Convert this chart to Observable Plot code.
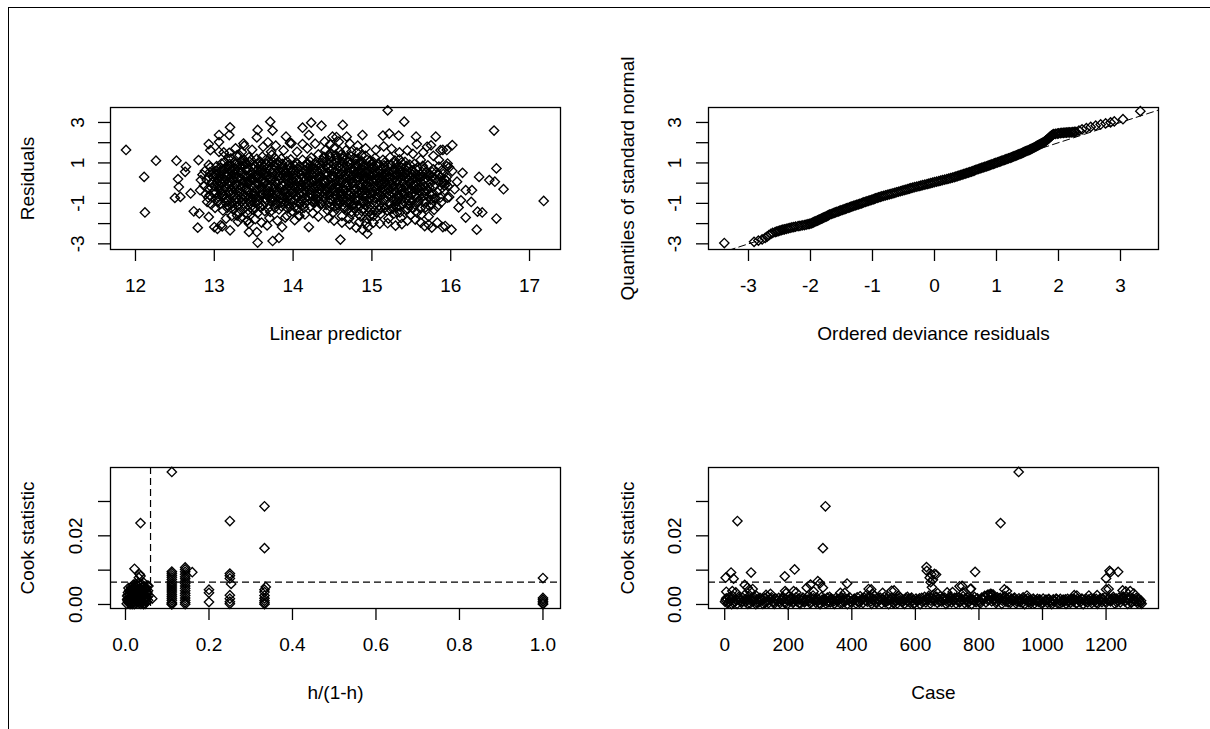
<!DOCTYPE html>
<html><head><meta charset="utf-8">
<script src="https://cdn.jsdelivr.net/npm/d3@7"></script>
<script src="https://cdn.jsdelivr.net/npm/@observablehq/plot@0.6"></script>
<style>
html,body{margin:0;padding:0;background:#fff;}
#page{position:relative;width:1210px;height:729px;overflow:hidden;background:#fff;}
#frame{position:absolute;left:8px;top:7px;width:1300px;height:800px;border-top:1.5px solid #000;border-left:1.5px solid #000;}
.panel{position:absolute;}
</style></head><body><div id="page"><div id="frame"></div></div>
<script>
// ---------- DATA ----------
// Panel 1: residuals vs linear predictor  [linear predictor, residual]
const residCore = [
[12.82,-0.35],[12.85,0.42],[12.87,-0.12],[12.83,0.15],[12.89,-0.55],[12.88,0.6],
[12.91,-0.92],[12.93,0.31],[12.92,-0.28],[12.95,0.78],[12.94,-0.6],[12.97,0.05],[12.96,-1.05],[12.98,0.52],[12.99,-0.41],[12.93,0.9],
[13.01,-1.22],[13.03,0.84],[13.02,-0.47],[13.05,0.21],[13.04,-0.88],[13.06,0.55],[13.07,-0.13],[13.08,-1.02],[13.09,0.97],[13.05,-0.66],[13.03,0.38],[13.08,0.02],
[13.11,-1.35],[13.12,0.64],[13.14,-0.21],[13.13,1.05],[13.15,-0.74],[13.16,0.33],[13.17,-1.08],[13.18,0.88],[13.19,-0.45],[13.12,0.1],[13.16,-0.02],[13.14,-0.95],[13.18,0.47],
[13.21,1.22],[13.22,-0.36],[13.23,0.58],[13.24,-1.31],[13.25,0.14],[13.26,-0.82],[13.27,0.93],[13.28,-0.07],[13.29,-1.12],[13.22,0.35],[13.25,-0.58],[13.27,0.72],[13.23,-0.99],[13.29,0.26],
[13.31,-1.45],[13.32,1.38],[13.33,-0.26],[13.34,0.49],[13.35,-0.91],[13.36,0.97],[13.37,-0.58],[13.38,0.11],[13.39,-1.2],[13.33,0.78],[13.36,-0.04],[13.31,0.3],[13.38,1.15],[13.34,-0.73],[13.37,-1.02],
[13.41,0.62],[13.42,-1.52],[13.43,0.06],[13.44,1.28],[13.45,-0.69],[13.46,0.39],[13.47,-0.18],[13.48,-1.11],[13.49,0.91],[13.42,-0.38],[13.45,1.05],[13.47,-0.87],[13.43,-1.34],[13.49,0.21],[13.44,-0.01],
[13.51,-0.95],[13.52,0.81],[13.53,-0.3],[13.54,1.2],[13.55,-1.48],[13.56,0.27],[13.57,-0.63],[13.58,0.55],[13.59,-1.2],[13.52,-0.09],[13.55,0.98],[13.58,-0.42],[13.51,0.4],[13.56,-1.05],[13.59,0.12],
[13.61,1.31],[13.62,-0.52],[13.63,0.44],[13.64,-1.38],[13.65,0.09],[13.66,-0.85],[13.67,0.76],[13.68,-0.2],[13.69,1.02],[13.62,-1.1],[13.64,0.6],[13.67,-0.35],[13.69,-0.68],[13.61,0.18],[13.66,0.97],
[13.71,-1.42],[13.72,1.55],[13.73,0.13],[13.74,-0.71],[13.75,0.88],[13.76,-0.19],[13.77,1.24],[13.78,-1.05],[13.79,0.47],[13.72,-0.45],[13.75,0.66],[13.77,-1.22],[13.73,1.4],[13.79,-0.02],[13.71,0.29],
[13.81,0.94],[13.82,-1.3],[13.83,0.37],[13.84,-0.58],[13.85,1.21],[13.86,-0.11],[13.87,-0.92],[13.88,0.63],[13.89,-0.33],[13.82,0.12],[13.85,-1.14],[13.87,0.81],[13.84,0.23],[13.89,-0.71],
[13.91,-0.48],[13.92,1.08],[13.93,-1.25],[13.94,0.3],[13.95,-0.15],[13.96,0.74],[13.97,-0.83],[13.98,0.05],[13.99,-1.38],[13.92,0.52],[13.95,-0.64],[13.97,1.17],[13.94,-1.02],[13.99,0.38],
[14.01,0.61],[14.02,-1.19],[14.03,-0.27],[14.04,1.02],[14.05,-0.7],[14.06,0.19],[14.07,-0.95],[14.08,0.83],[14.09,-0.08],[14.03,0.41],[14.06,-1.28],[14.08,-0.49],[14.01,-0.15],
[14.11,-0.86],[14.12,1.15],[14.13,0.27],[14.14,-1.22],[14.15,0.64],[14.16,-0.41],[14.17,0.02],[14.18,0.92],[14.19,-0.63],[14.12,-0.18],[14.15,-1.01],[14.17,0.48],[14.19,0.75],
[14.21,0.35],[14.22,-1.15],[14.23,1.26],[14.24,-0.37],[14.25,0.71],[14.26,-0.79],[14.27,0.09],[14.28,1.0],[14.29,-0.55],[14.22,0.55],[14.25,-0.12],[14.27,-0.98],[14.29,0.21],
[14.31,-1.24],[14.32,1.42],[14.33,0.17],[14.34,-0.53],[14.35,0.86],[14.36,-0.2],[14.37,1.12],[14.38,-0.88],[14.39,0.44],[14.32,-0.02],[14.35,-1.05],[14.37,0.62],[14.33,-0.7],[14.39,1.3],
[14.41,1.63],[14.42,-0.38],[14.43,0.52],[14.44,-1.35],[14.45,0.96],[14.46,-0.07],[14.47,1.3],[14.48,-0.82],[14.49,0.25],[14.42,-1.08],[14.44,0.73],[14.46,-0.6],[14.48,1.48],[14.41,0.08],[14.47,-0.24],
[14.51,-1.45],[14.52,1.74],[14.53,0.31],[14.54,-0.66],[14.55,1.12],[14.56,-0.12],[14.57,-1.1],[14.58,0.84],[14.59,-0.4],[14.52,0.55],[14.54,1.4],[14.56,-0.88],[14.58,0.1],[14.51,-0.25],[14.55,-1.28],[14.59,1.58],
[14.61,0.45],[14.62,-1.62],[14.63,1.21],[14.64,-0.28],[14.65,0.78],[14.66,-0.97],[14.67,1.62],[14.68,0.02],[14.69,-1.33],[14.62,-0.55],[14.64,1.0],[14.66,0.22],[14.68,-0.75],[14.61,1.42],[14.65,-1.15],[14.69,0.6],
[14.71,-1.75],[14.72,0.92],[14.73,-0.44],[14.74,1.55],[14.75,-1.08],[14.76,0.36],[14.77,-0.15],[14.78,1.24],[14.79,-0.82],[14.72,0.14],[14.74,-1.42],[14.76,0.7],[14.78,-0.58],[14.71,1.08],[14.75,-0.02],[14.77,-1.25],[14.79,0.48],
[14.81,1.52],[14.82,-0.65],[14.83,0.28],[14.84,-1.93],[14.85,0.95],[14.86,-0.22],[14.87,-1.38],[14.88,0.62],[14.89,-0.9],[14.82,1.2],[14.84,-0.05],[14.86,-1.65],[14.88,0.4],[14.81,-1.12],[14.85,-0.45],[14.87,1.38],[14.89,0.12],
[14.91,-0.35],[14.92,1.35],[14.93,-1.98],[14.94,0.55],[14.95,-1.2],[14.96,0.08],[14.97,-0.72],[14.98,1.1],[14.99,-1.55],[14.92,-0.1],[14.94,-1.75],[14.96,0.85],[14.98,-0.5],[14.91,0.3],[14.95,-0.92],[14.97,0.62],[14.99,-1.35],
[15.01,0.72],[15.02,-1.62],[15.03,-0.18],[15.04,1.25],[15.05,-0.95],[15.06,0.35],[15.07,-0.55],[15.08,0.98],[15.09,-1.3],[15.02,0.1],[15.04,-0.75],[15.06,-1.45],[15.08,0.52],[15.01,-0.35],[15.09,0.02],
[15.11,-1.52],[15.12,0.45],[15.13,-0.28],[15.14,1.15],[15.15,-0.82],[15.16,0.05],[15.17,-1.2],[15.18,0.68],[15.19,-0.48],[15.12,-0.98],[15.14,0.22],[15.16,1.02],[15.18,-0.15],[15.11,0.58],
[15.21,-1.75],[15.22,0.35],[15.23,1.28],[15.24,-0.62],[15.25,0.12],[15.26,-1.25],[15.27,0.55],[15.28,-0.3],[15.29,1.12],[15.22,-1.02],[15.24,-0.05],[15.26,0.62],[15.28,-1.5],[15.21,0.25],
[15.31,0.95],[15.32,-1.45],[15.33,0.15],[15.34,-0.72],[15.35,1.18],[15.36,-0.25],[15.37,-1.72],[15.38,0.55],[15.39,-1.02],[15.32,0.4],[15.34,-0.05],[15.36,0.82],[15.38,-0.48],[15.31,-1.2],
[15.41,-0.55],[15.42,1.05],[15.43,-1.32],[15.44,0.25],[15.45,-0.12],[15.46,0.75],[15.47,-0.85],[15.48,0.02],[15.49,-1.58],[15.42,0.48],[15.44,-0.35],[15.46,-1.1],[15.48,0.92],
[15.51,0.62],[15.52,-1.25],[15.53,-0.08],[15.54,0.95],[15.55,-0.62],[15.56,0.28],[15.57,-1.45],[15.58,0.05],[15.59,-0.88],[15.52,0.42],[15.55,-0.32],[15.58,0.78],
[15.61,-0.45],[15.62,1.15],[15.63,-1.55],[15.64,0.35],[15.65,-0.9],[15.66,0.72],[15.67,-0.15],[15.68,-1.2],[15.69,0.52],[15.62,0.05],[15.66,-0.62],
[15.71,0.88],[15.72,-1.65],[15.73,-0.22],[15.74,0.42],[15.75,-1.05],[15.76,0.15],[15.77,-0.55],[15.78,0.68],[15.79,-1.32],[15.74,-0.02],
[15.81,-0.75],[15.82,0.55],[15.83,-1.15],[15.84,0.12],[15.85,0.82],[15.86,-0.35],[15.87,0.3],[15.88,-0.95],[15.89,0.65],
[15.91,0.05],[15.92,-0.12],[15.93,0.18],[15.94,-0.05],[15.95,0.3],[15.96,-0.72],[15.98,0.78]
];
const residCore2 = [
[12.905,0.15],[12.925,-0.72],[12.945,0.55],[12.965,-0.22],[12.985,0.32],
[13.005,-0.15],[13.025,0.62],[13.045,-0.95],[13.065,0.28],[13.085,-0.52],[13.035,0.05],[13.075,0.75],[13.055,-0.3],
[13.105,0.22],[13.125,-0.62],[13.145,0.78],[13.165,-1.22],[13.185,0.02],[13.115,-0.35],[13.155,0.52],[13.175,-0.82],[13.195,0.95],
[13.205,-0.6],[13.225,0.82],[13.245,-0.15],[13.265,0.45],[13.285,-0.78],[13.215,0.05],[13.235,-1.15],[13.255,1.05],[13.275,-0.35],
[13.305,0.58],[13.325,-0.48],[13.345,1.1],[13.365,-1.3],[13.385,0.35],[13.315,-0.85],[13.335,0.2],[13.355,-0.2],[13.375,0.88],[13.395,-0.62],
[13.405,-0.25],[13.425,0.75],[13.445,-0.92],[13.465,1.15],[13.485,-0.55],[13.415,0.32],[13.435,-0.62],[13.455,0.12],[13.475,0.55],[13.495,-1.32],
[13.505,0.15],[13.525,-0.72],[13.545,0.62],[13.565,-0.28],[13.585,1.05],[13.515,-1.25],[13.535,0.4],[13.555,-0.05],[13.575,0.82],[13.595,-0.6],
[13.605,-0.3],[13.625,0.85],[13.645,-0.75],[13.665,0.35],[13.685,-1.25],[13.615,0.58],[13.635,-0.02],[13.655,1.15],[13.675,-0.55],[13.695,0.25],
[13.705,0.62],[13.725,-0.9],[13.745,0.32],[13.765,-0.45],[13.785,0.98],[13.715,-0.18],[13.735,1.08],[13.755,-0.88],[13.775,0.1],[13.795,-0.6],
[13.805,-0.42],[13.825,0.62],[13.845,-0.95],[13.865,0.4],[13.885,-0.12],[13.815,1.05],[13.835,-0.22],[13.855,0.75],[13.875,-0.65],[13.895,0.25],
[13.905,0.35],[13.925,-0.72],[13.945,0.9],[13.965,-0.35],[13.985,0.55],[13.915,-0.95],[13.935,0.12],[13.955,-1.18],[13.975,0.62],[13.995,-0.15],
[14.005,-0.55],[14.025,0.85],[14.045,-0.1],[14.065,0.55],[14.085,-1.05],[14.015,0.25],[14.035,-0.82],[14.055,0.95],[14.075,-0.3],
[14.105,0.42],[14.125,-0.52],[14.145,0.85],[14.165,-0.15],[14.185,0.32],[14.115,-1.12],[14.135,0.08],[14.155,-0.72],[14.175,0.98],
[14.205,-0.35],[14.225,0.85],[14.245,-0.92],[14.265,0.48],[14.285,-0.18],[14.215,1.08],[14.235,0.15],[14.255,-0.62],[14.275,0.72],
[14.305,0.62],[14.325,-0.85],[14.345,0.35],[14.365,-0.45],[14.385,1.05],[14.315,-0.15],[14.335,0.95],[14.355,-1.02],[14.375,0.15],[14.395,-0.32],
[14.405,-0.5],[14.425,1.1],[14.445,0.12],[14.465,-1.15],[14.485,0.62],[14.415,0.85],[14.435,-0.22],[14.455,1.42],[14.475,-0.78],[14.495,0.38],
[14.505,0.72],[14.525,-0.38],[14.545,1.02],[14.565,-1.02],[14.585,0.42],[14.515,-0.72],[14.535,0.12],[14.555,1.28],[14.575,-0.18],[14.595,-0.62],[14.53,-1.15],
[14.605,-0.42],[14.625,0.72],[14.645,-1.25],[14.665,1.18],[14.685,-0.12],[14.615,0.05],[14.635,-0.82],[14.655,0.38],[14.675,-0.48],[14.695,1.05],[14.64,1.35],
[14.705,0.35],[14.725,-0.92],[14.745,0.65],[14.765,-0.35],[14.785,1.15],[14.715,-0.55],[14.735,1.32],[14.755,0.05],[14.775,-1.05],[14.795,0.82],[14.74,-1.55],
[14.805,-0.28],[14.825,0.82],[14.845,-1.15],[14.865,0.48],[14.885,-0.62],[14.815,0.15],[14.835,-1.55],[14.855,1.05],[14.875,-0.08],[14.895,-1.25],[14.84,0.62],
[14.905,0.85],[14.925,-0.62],[14.945,0.22],[14.965,-1.42],[14.985,0.35],[14.915,-1.05],[14.935,0.65],[14.955,-0.25],[14.975,-1.62],[14.995,0.12],[14.94,1.15],
[15.005,-0.82],[15.025,0.42],[15.045,-0.35],[15.065,0.85],[15.085,-1.12],[15.015,1.05],[15.035,-1.35],[15.055,0.15],[15.075,-0.12],[15.095,0.62],
[15.105,0.12],[15.125,-0.62],[15.145,0.72],[15.165,-0.32],[15.185,0.35],[15.115,-1.25],[15.135,-0.05],[15.155,0.88],[15.175,-0.85],[15.195,-1.35],
[15.205,0.55],[15.225,-0.35],[15.245,0.92],[15.265,-0.82],[15.285,0.28],[15.215,-0.58],[15.235,-1.3],[15.255,0.38],[15.275,-0.15],[15.295,-1.05],
[15.305,-0.42],[15.325,0.68],[15.345,-1.15],[15.365,0.28],[15.385,-0.78],[15.315,0.15],[15.335,-0.25],[15.355,-1.45],[15.375,1.02],[15.395,0.05],
[15.405,0.35],[15.425,-0.78],[15.445,0.62],[15.465,-0.38],[15.485,-1.1],[15.415,-0.15],[15.435,0.85],[15.455,-1.28],[15.475,0.15],
[15.505,-0.55],[15.525,0.22],[15.545,-1.05],[15.565,0.68],[15.585,-0.25],[15.515,-0.85],[15.535,0.55],[15.555,-0.12],[15.575,-0.72],
[15.605,0.25],[15.625,-0.72],[15.645,0.85],[15.665,-0.35],[15.685,-0.95],[15.615,-1.25],[15.655,0.12],
[15.705,-0.38],[15.725,0.35],[15.745,-0.82],[15.765,0.55],[15.785,-0.15],[15.735,-1.15],
[15.805,0.22],[15.825,-0.42],[15.845,0.42],[15.865,-0.72],[15.885,0.05],
[15.905,0.45],[15.925,-0.35],[15.945,0.12],[15.965,-0.15]
];
const residCore3 = [
[13.013,0.45],[13.037,-0.75],[13.063,0.1],[13.087,-0.35],[13.097,0.6],
[13.113,-0.55],[13.137,0.35],[13.163,-0.9],[13.187,0.7],[13.193,-0.15],
[13.213,0.65],[13.237,-0.45],[13.263,0.3],[13.287,-0.95],[13.297,0.9],
[13.313,-0.35],[13.337,0.6],[13.363,-0.8],[13.387,0.05],[13.397,1.0],
[13.413,0.95],[13.437,-0.45],[13.463,0.25],[13.487,-0.75],[13.497,0.7],
[13.513,-0.55],[13.537,0.3],[13.563,-0.85],[13.587,0.65],[13.597,-0.2],
[13.613,0.1],[13.637,-0.95],[13.663,0.5],[13.687,-0.45],[13.697,0.85],
[13.713,-0.75],[13.737,0.45],[13.763,-0.3],[13.787,0.8],[13.797,-1.0],
[13.813,0.35],[13.837,-0.75],[13.863,0.95],[13.887,-0.4],[13.897,0.55],
[13.913,-0.25],[13.937,0.65],[13.963,-0.6],[13.987,0.2],[13.997,-0.9],
[14.013,0.05],[14.037,-0.6],[14.063,0.7],[14.087,-0.25],[14.097,0.4],
[14.113,0.6],[14.137,-0.35],[14.163,0.2],[14.187,-0.85],[14.197,0.1],
[14.213,-0.55],[14.237,0.45],[14.263,-0.25],[14.287,0.9],[14.297,-0.8],
[14.313,0.3],[14.337,-0.3],[14.363,0.7],[14.387,-0.65],[14.397,0.05],
[14.413,-0.35],[14.437,0.4],[14.463,-0.95],[14.487,1.05],[14.497,-0.1],
[14.513,0.35],[14.537,-0.55],[14.563,0.65],[14.587,-0.85],[14.597,0.2],[14.52,0.95],[14.57,-0.3],
[14.613,-0.65],[14.637,0.55],[14.663,-0.35],[14.687,0.85],[14.697,-0.95],[14.62,0.25],[14.67,-0.05],
[14.713,0.5],[14.737,-0.7],[14.763,0.25],[14.787,-0.35],[14.797,0.95],[14.72,-0.15],[14.77,0.6],
[14.813,-0.85],[14.837,0.45],[14.863,-0.45],[14.887,0.85],[14.897,-0.3],[14.82,0.3],[14.87,-0.95],
[14.913,0.55],[14.937,-0.85],[14.963,0.4],[14.987,-0.25],[14.997,0.95],[14.92,-0.5],[14.97,0.2],
[15.013,-0.5],[15.037,0.55],[15.063,-0.7],[15.087,0.3],[15.097,-0.4],[15.02,0.85],
[15.113,0.3],[15.137,-0.45],[15.163,0.45],[15.187,-0.65],[15.197,0.85],[15.12,-0.1],
[15.213,-0.25],[15.237,0.25],[15.263,-0.5],[15.287,0.72],[15.297,-0.75],[15.22,0.05],
[15.313,0.45],[15.337,-0.6],[15.363,0.55],[15.387,-0.3],[15.397,0.35],[15.32,-0.9],
[15.413,-0.45],[15.437,0.5],[15.463,-0.65],[15.487,0.35],[15.497,-0.3],
[15.513,0.15],[15.537,-0.45],[15.563,0.45],[15.587,-0.95],[15.597,0.35],
[15.613,-0.2],[15.637,0.55],[15.663,-0.45],[15.687,0.25],
[15.713,0.15],[15.737,-0.55],[15.763,0.3],[15.787,-0.75]
];
const residOuter = [
[11.88,1.64],[12.11,0.31],[12.12,-1.45],[12.26,1.11],[12.52,1.11],[12.5,-0.73],[12.54,0.2],[12.55,-0.19],[12.57,-0.68],[12.63,0.56],[12.64,0.81],[12.7,-0.51],[12.74,-1.39],[12.79,-2.2],[12.8,1.14],[12.81,-1.5],
[12.93,-1.67],[13.0,-2.17],[13.04,-2.26],[13.08,-2.08],[13.1,-2.14],[13.2,-2.33],[13.2,2.76],[13.19,2.38],[13.06,2.38],[12.93,1.93],[13.06,2.03],[12.95,1.63],[13.06,1.55],[13.19,1.5],
[13.18,1.21],[13.29,1.38],[13.35,1.54],[13.37,1.96],[13.29,-1.6],[13.34,-1.72],[13.42,-1.85],[13.44,-2.0],[13.44,-2.41],[13.54,-2.42],[13.55,-2.94],[13.55,2.63],[13.54,2.26],
[13.71,3.04],[13.74,2.6],[13.74,-2.86],[13.82,-2.71],[13.67,-2.09],[13.86,-2.17],[13.91,2.3],[13.96,1.99],[13.98,1.97],[14.12,2.74],[14.23,2.99],[14.36,2.84],[14.2,2.38],[14.12,1.93],
[14.2,-2.17],[14.02,-1.83],[13.92,-1.6],[14.07,-1.6],[14.6,-2.79],[14.63,2.88],[14.5,2.3],[14.55,2.28],[14.68,2.3],[14.88,2.38],[14.94,-2.5],[15.2,3.6],[15.14,2.35],[15.22,2.45],[15.34,2.35],
[15.41,3.04],[15.56,2.3],[15.57,1.93],[15.7,1.8],[15.75,1.87],[15.81,2.3],[15.87,1.63],[15.9,1.64],[15.95,1.64],[16.02,1.88],[15.95,0.84],[15.96,0.97],[16.02,0.6],[16.08,0.07],[16.05,-0.3],
[15.98,-0.69],[16.13,-0.85],[16.1,-1.2],[16.15,0.51],[16.19,-0.35],[16.27,-0.35],[16.26,-0.93],[16.19,-1.7],[16.01,-2.3],[15.9,-2.17],[15.83,-1.95],[15.93,-2.12],[16.33,-2.3],[16.34,-1.41],
[16.4,-1.45],[16.36,0.31],[16.49,0.15],[16.56,0.07],[16.55,2.6],[16.58,0.73],[16.67,-0.3],[16.58,-1.75],[17.18,-0.88],
[13.12,1.52],[13.27,1.72],[13.38,1.85],[13.48,1.65],[13.62,1.8],[13.68,2.02],[13.78,1.85],[13.88,1.62],[14.05,1.55],[14.18,1.72],[14.28,1.95],[14.4,2.05],[14.47,1.92],[14.58,2.05],
[14.72,1.95],[14.82,1.85],[14.92,1.72],[15.05,1.65],[15.15,1.82],[15.25,1.7],[15.35,1.52],[15.45,1.62],[15.52,1.45],[15.65,1.52],[15.78,1.35],[15.85,1.15],
[13.15,-1.75],[13.22,-1.62],[13.3,-1.9],[13.42,-1.85],[13.52,-1.78],[13.6,-1.95],[13.7,-1.72],[13.8,-1.85],[13.9,-1.7],[14.08,-1.62],[14.15,-1.55],[14.25,-1.48],[14.32,-1.65],
[14.45,-1.72],[14.52,-1.85],[14.62,-1.95],[14.72,-2.05],[14.8,-2.2],[14.88,-2.3],[14.95,-2.18],[15.02,-1.95],[15.1,-2.0],[15.2,-1.98],[15.3,-2.1],[15.38,-2.02],[15.45,-1.85],
[15.55,-1.8],[15.62,-1.95],[15.72,-2.05],[15.76,-2.2],[15.67,-2.12]
];
// Panel 2: [ordered deviance residual, quantile of standard normal]
const qqPairs = [
[-3.39,-2.96],[-2.91,-2.90],[-2.84,-2.84],[-2.78,-2.78],[-2.73,-2.71],[-2.70,-2.64],[-2.67,-2.57],[-2.64,-2.51],[-2.61,-2.46],[-2.57,-2.42],[-2.52,-2.37],[-2.47,-2.32],[-2.42,-2.28],
[-2.36,-2.24],[-2.3,-2.19],[-2.24,-2.15],[-2.17,-2.11],[-2.10,-2.07],[-2.04,-2.03],[-1.99,-1.99],
[-1.96,-1.95],[-1.93,-1.90],[-1.89,-1.85],[-1.86,-1.80],[-1.82,-1.75],[-1.79,-1.70],[-1.75,-1.65],[-1.72,-1.60],[-1.69,-1.55],
[-1.64,-1.50],[-1.60,-1.45],[-1.55,-1.40],[-1.51,-1.35],[-1.46,-1.30],[-1.42,-1.25],[-1.37,-1.20],[-1.33,-1.15],
[-1.28,-1.10],[-1.23,-1.05],[-1.18,-1.00],[-1.14,-0.95],[-1.09,-0.90],[-1.04,-0.85],[-0.99,-0.80],[-0.95,-0.75],[-0.90,-0.70],
[-0.85,-0.65],[-0.79,-0.60],[-0.73,-0.55],[-0.67,-0.50],[-0.61,-0.45],[-0.55,-0.40],[-0.49,-0.35],[-0.43,-0.30],[-0.38,-0.25],
[-0.32,-0.20],[-0.25,-0.15],[-0.19,-0.10],[-0.12,-0.05],[-0.06,0.00],[0.00,0.05],[0.07,0.10],[0.13,0.15],[0.20,0.20],[0.26,0.25],
[0.32,0.30],[0.37,0.35],[0.42,0.40],[0.47,0.45],[0.52,0.50],[0.57,0.55],[0.62,0.60],[0.66,0.65],[0.71,0.70],[0.76,0.75],[0.81,0.80],
[0.86,0.85],[0.90,0.90],[0.95,0.95],[0.99,1.00],[1.04,1.05],[1.08,1.10],[1.13,1.15],[1.17,1.20],[1.22,1.25],[1.26,1.30],
[1.30,1.35],[1.34,1.40],[1.38,1.45],[1.42,1.50],[1.45,1.55],[1.49,1.60],[1.53,1.65],[1.56,1.70],[1.60,1.75],
[1.63,1.80],[1.66,1.85],[1.69,1.90],[1.72,1.95],[1.75,2.00],[1.78,2.05],
[1.80,2.12],[1.83,2.18],[1.85,2.24],[1.87,2.30],[1.89,2.36],[1.92,2.42],
[1.98,2.45],[2.03,2.47],[2.08,2.49],[2.13,2.50],[2.18,2.51],[2.23,2.52],[2.28,2.54],
[2.33,2.60],[2.38,2.66],[2.45,2.72],[2.52,2.78],[2.60,2.84],[2.68,2.90],[2.76,2.95],[2.84,3.00],[2.90,3.05],[3.04,3.16],[3.32,3.56]
];
const qqPairs2 = [
[-2.545,-2.395],[-2.495,-2.345],[-2.445,-2.3],[-2.39,-2.26],[-2.33,-2.215],[-2.27,-2.17],[-2.2,-2.13],[-2.135,-2.09],[-2.07,-2.05],[-2.015,-2.01],
[-1.975,-1.97],[-1.945,-1.925],[-1.91,-1.875],[-1.875,-1.825],[-1.84,-1.775],[-1.805,-1.725],[-1.77,-1.675],[-1.735,-1.625],[-1.705,-1.575],
[-1.665,-1.525],[-1.62,-1.475],[-1.575,-1.425],[-1.53,-1.375],[-1.485,-1.325],[-1.44,-1.275],[-1.395,-1.225],[-1.35,-1.175],[-1.305,-1.125],
[-1.255,-1.075],[-1.205,-1.025],[-1.16,-0.975],[-1.115,-0.925],[-1.065,-0.875],[-1.015,-0.825],[-0.97,-0.775],[-0.925,-0.725],[-0.875,-0.675],
[-0.82,-0.625],[-0.76,-0.575],[-0.70,-0.525],[-0.64,-0.475],[-0.58,-0.425],[-0.52,-0.375],[-0.46,-0.325],[-0.405,-0.275],[-0.35,-0.225],
[-0.285,-0.175],[-0.22,-0.125],[-0.155,-0.075],[-0.09,-0.025],[-0.03,0.025],[0.035,0.075],[0.10,0.125],[0.165,0.175],[0.23,0.225],[0.29,0.275],
[0.345,0.325],[0.395,0.375],[0.445,0.425],[0.495,0.475],[0.545,0.525],[0.595,0.575],[0.64,0.625],[0.685,0.675],[0.735,0.725],[0.785,0.775],
[0.835,0.825],[0.88,0.875],[0.925,0.925],[0.97,0.975],[1.015,1.025],[1.06,1.075],[1.105,1.125],[1.15,1.175],[1.195,1.225],[1.24,1.275],
[1.28,1.325],[1.32,1.375],[1.36,1.425],[1.40,1.475],[1.435,1.525],[1.47,1.575],[1.51,1.625],[1.545,1.675],[1.58,1.725],[1.615,1.775],
[1.645,1.825],[1.675,1.875],[1.705,1.925],[1.735,1.975],[1.765,2.025],[1.79,2.085],[1.815,2.15],[1.84,2.21],[1.86,2.27],[1.88,2.33],[1.905,2.39],
[1.95,2.44],[2.0,2.46],[2.055,2.48],[2.105,2.495],[2.155,2.505],[2.205,2.515],[2.255,2.53]
];
const refLine = [-4, 4];
// Panel 3: [h/(1-h), Cook statistic]
const leverageCook = [
[0.003,0.0002],[0.005,0.0012],[0.004,0.0025],[0.006,0.0035],[0.008,0.0004],[0.009,0.0018],[0.01,0.003],[0.011,0.0042],[0.012,0.0008],[0.013,0.0022],[0.014,0.0013],[0.015,0.0036],
[0.016,0.0001],[0.017,0.0027],[0.018,0.0047],[0.019,0.0016],[0.02,0.0006],[0.021,0.0033],[0.022,0.0052],[0.023,0.0021],[0.024,0.0011],[0.025,0.004],[0.026,0.0003],[0.027,0.0028],
[0.028,0.0055],[0.029,0.0017],[0.03,0.0045],[0.031,0.0008],[0.032,0.0034],[0.033,0.0024],[0.034,0.0058],[0.035,0.0013],[0.036,0.004],[0.037,0.0002],[0.038,0.0029],[0.039,0.005],
[0.04,0.0019],[0.041,0.0009],[0.042,0.0037],[0.043,0.0025],[0.044,0.0053],[0.045,0.0004],[0.046,0.0031],[0.047,0.0015],[0.048,0.0044],[0.049,0.0022],[0.05,0.0007],[0.052,0.0035],
[0.054,0.0012],[0.056,0.0026],[0.007,0.0048],[0.013,0.005],[0.019,0.0058],[0.024,0.006],[0.03,0.0062],[0.038,0.006],[0.044,0.0063],[0.05,0.0049],[0.055,0.0054],[0.006,0.0009],
[0.017,0.0008],[0.028,0.0009],[0.036,0.0018],[0.047,0.0002],
[0.004,0.0015],[0.006,0.0028],[0.008,0.0011],[0.01,0.0021],[0.012,0.0034],[0.014,0.0004],[0.016,0.0024],[0.018,0.0032],[0.02,0.0041],[0.022,0.0015],[0.024,0.0032],[0.026,0.0019],
[0.028,0.0038],[0.03,0.0025],[0.032,0.0012],[0.034,0.0046],[0.036,0.0028],[0.038,0.0008],[0.04,0.0041],[0.042,0.0014],[0.044,0.003],[0.046,0.0047],[0.048,0.0011],[0.05,0.0033],
[0.052,0.0021],[0.054,0.004],[0.015,0.0043],[0.027,0.0049],[0.041,0.0052],[0.009,0.004],[0.033,0.0004],[0.043,0.0001],[0.021,0.0001],[0.011,0.0001],
[0.0216,0.0104],[0.034,0.0088],[0.036,0.0083],[0.032,0.0078],[0.036,0.0237],[0.052,0.0055],[0.064,0.0017],
[0.111,0.0386],[0.111,0.0096],[0.111,0.0091],[0.111,0.0085],[0.111,0.0079],[0.111,0.0073],[0.111,0.0066],[0.111,0.006],[0.111,0.0054],[0.111,0.0048],[0.111,0.0042],
[0.111,0.0036],[0.111,0.003],[0.111,0.0024],[0.111,0.0018],[0.111,0.0012],[0.111,0.0006],[0.111,0.0002],[0.111,0.0],
[0.143,0.0108],[0.143,0.0102],[0.143,0.0095],[0.143,0.0088],[0.143,0.0081],[0.143,0.0075],[0.143,0.0068],[0.143,0.0061],[0.143,0.0054],[0.143,0.0047],[0.143,0.004],
[0.143,0.0033],[0.143,0.0026],[0.143,0.0019],[0.143,0.0012],[0.143,0.0006],[0.143,0.0001],[0.16,0.0094],
[0.2,0.0043],[0.2,0.0034],[0.2,0.0007],
[0.25,0.0243],[0.25,0.009],[0.25,0.0084],[0.25,0.0076],[0.253,0.006],[0.25,0.0027],[0.25,0.0017],[0.25,0.0008],[0.25,0.0002],
[0.333,0.0286],[0.333,0.0164],[0.336,0.0051],[0.333,0.0043],[0.333,0.0036],[0.333,0.0026],[0.333,0.0018],[0.333,0.0011],[0.333,0.0005],[0.333,0.0001],
[1.0,0.0077],[1.0,0.0019],[1.0,0.0014],[1.0,0.0009],[1.0,0.0004],[1.0,0.0001]
];
const cookCut = 0.0065;
const hCut = 0.06;
// Panel 4: [case, Cook statistic]
const caseCook = [
[1,0.0008],[5,0.0018],[9,0.0003],[13,0.0021],[17,0.0012],[22,0.0001],[26,0.0024],[30,0.0009],[35,0.0016],[39,0.0002],[44,0.0022],[48,0.0011],[53,0.0005],[57,0.0019],[62,0.0027],
[66,0.0007],[71,0.0014],[75,0.0023],[80,0.0003],[84,0.0017],[89,0.001],[93,0.0021],[98,0.0001],[102,0.0015],[107,0.0006],[111,0.0019],[116,0.0012],[120,0.0002],[125,0.0018],
[129,0.0008],[134,0.0023],[138,0.0004],[143,0.0014],[147,0.0021],[152,0.0009],[156,0.0002],[161,0.0017],[165,0.0011],[170,0.0019],[174,0.0004],[179,0.0013],[183,0.0022],
[188,0.0007],[192,0.0016],[197,0.0001],[201,0.0024],[206,0.001],[210,0.0018],[215,0.0005],[219,0.0014],[224,0.0021],[228,0.0008],[233,0.0017],[237,0.0002],[242,0.0012],
[246,0.002],[251,0.0006],[255,0.0015],[260,0.0023],[264,0.0009],[269,0.0003],[273,0.0018],[278,0.0026],[282,0.0011],[287,0.0005],[291,0.0019],[296,0.0013],[300,0.0001],
[305,0.0022],[309,0.0008],[314,0.0016],[318,0.0003],[323,0.002],[327,0.0011],[332,0.0006],[336,0.0017],[341,0.0014],[345,0.0002],[350,0.0019],[354,0.0009],[359,0.0015],
[363,0.0004],[368,0.0021],[372,0.0012],[377,0.0007],[381,0.0017],[386,0.0001],[390,0.0013],[395,0.0019],[399,0.0005],[404,0.0011],[408,0.0017],[413,0.0003],[417,0.0021],
[422,0.0009],[426,0.0024],[431,0.0014],[435,0.0004],[440,0.0019],[444,0.0026],[449,0.0008],[453,0.0016],[458,0.0022],[462,0.0002],[467,0.0012],[471,0.0025],[476,0.0007],
[480,0.0017],[485,0.0011],[489,0.002],[494,0.0003],[498,0.0014],[503,0.0022],[507,0.0009],[512,0.0017],[516,0.0001],[521,0.0013],[525,0.002],[530,0.0006],[534,0.0016],
[539,0.0011],[543,0.0003],[548,0.0018],[552,0.0021],[557,0.0008],[561,0.0014],[566,0.0002],[570,0.0019],[575,0.001],[579,0.0016],[584,0.0005],[588,0.002],[593,0.0012],
[597,0.0004],[602,0.0017],[606,0.0009],[611,0.0014],[615,0.0001],[620,0.0019],[624,0.0011],[629,0.0022],[633,0.0006],[638,0.0015],[642,0.0025],[647,0.0003],[651,0.0018],
[656,0.0028],[660,0.001],[665,0.0021],[669,0.0005],[674,0.0016],[678,0.0024],[683,0.0008],[687,0.0013],[692,0.002],[696,0.0002],[701,0.0017],[705,0.0011],[710,0.0023],
[714,0.0006],[719,0.0015],[723,0.0019],[728,0.0003],[732,0.0012],[737,0.0021],[741,0.0008],[746,0.0016],[750,0.0024],[755,0.0004],[759,0.0013],[764,0.002],[768,0.0009],
[773,0.0017],[777,0.0001],[782,0.0014],[786,0.0022],[791,0.0007],[795,0.0018],[800,0.0011],[804,0.0003],[809,0.002],[813,0.0013],[818,0.0025],[822,0.0006],[827,0.0028],
[831,0.0015],[836,0.0031],[840,0.0009],[845,0.0029],[849,0.0018],[854,0.0004],[858,0.0021],[863,0.0012],[867,0.0019],[872,0.0002],[876,0.0016],[881,0.0024],[885,0.0008],
[890,0.0014],[894,0.0021],[899,0.0005],[903,0.0017],[908,0.0011],[912,0.002],[917,0.0003],[921,0.0013],[926,0.0018],[930,0.0007],[935,0.0015],[939,0.0021],[944,0.0001],
[948,0.0012],[953,0.0018],[957,0.0006],[962,0.0014],[966,0.001],[971,0.0017],[975,0.0003],[980,0.0012],[984,0.0016],[989,0.0007],[993,0.0013],[998,0.0002],[1002,0.0017],
[1007,0.0009],[1011,0.0014],[1016,0.0005],[1020,0.0016],[1025,0.0011],[1029,0.0001],[1034,0.0015],[1038,0.0008],[1043,0.0017],[1047,0.0004],[1052,0.0012],[1056,0.0016],
[1061,0.0006],[1065,0.0014],[1070,0.001],[1074,0.0002],[1079,0.0016],[1083,0.0012],[1088,0.0005],[1092,0.0017],[1097,0.0009],[1101,0.0014],[1106,0.0003],[1110,0.0016],
[1115,0.0011],[1119,0.0007],[1124,0.0017],[1128,0.0001],[1133,0.0013],[1137,0.0016],[1142,0.0006],[1146,0.0012],[1151,0.0017],[1155,0.0004],[1160,0.0014],[1164,0.0009],
[1169,0.0016],[1173,0.0002],[1178,0.0012],[1182,0.0018],[1187,0.0007],[1191,0.0015],[1196,0.0021],[1200,0.0005],[1205,0.0013],[1209,0.0019],[1214,0.0009],[1218,0.0016],
[1223,0.0022],[1227,0.0003],[1232,0.0017],[1236,0.0011],[1241,0.002],[1245,0.0006],[1250,0.0015],[1254,0.0023],[1259,0.0009],[1263,0.0018],[1268,0.0002],[1272,0.0014],
[1277,0.0021],[1281,0.0007],[1286,0.0016],[1290,0.0011],[1295,0.0019],[1299,0.0004],[1303,0.0013],[1306,0.0008],[1309,0.0005],[1312,0.0002]
];
const caseCook2 = [
[3,0.0013],[11,0.0006],[20,0.0016],[28,0.0004],[37,0.0012],[46,0.0017],[55,0.0009],[64,0.0015],[73,0.0002],[82,0.0011],[91,0.0016],[100,0.0006],[109,0.0013],[118,0.0016],
[127,0.0004],[136,0.0011],[145,0.0017],[154,0.0006],[163,0.0013],[172,0.0009],[181,0.0016],[190,0.0003],[199,0.0012],[208,0.0015],[217,0.0008],[226,0.0013],[235,0.0005],
[244,0.0016],[253,0.001],[262,0.0014],[271,0.0007],[280,0.0018],[289,0.0012],[298,0.0004],[307,0.0014],[316,0.0011],[325,0.0006],[334,0.0015],[343,0.0009],[352,0.0013],
[361,0.0017],[370,0.0005],[379,0.0012],[388,0.0015],[397,0.0008],[406,0.0014],[415,0.0011],[424,0.0005],[433,0.0018],[442,0.0012],[451,0.0021],[460,0.0009],[469,0.0016],
[478,0.0004],[487,0.0013],[496,0.0017],[505,0.0006],[514,0.0011],[523,0.0015],[532,0.0003],[541,0.0016],[550,0.0011],[559,0.0006],[568,0.0014],[577,0.0009],[586,0.0016],
[595,0.0002],[604,0.0012],[613,0.0018],[622,0.0007],[631,0.0014],[640,0.0019],[649,0.0011],[658,0.0016],[667,0.0022],[676,0.0009],[685,0.0018],[694,0.0013],[703,0.0006],
[712,0.0016],[721,0.0011],[730,0.0019],[739,0.0006],[748,0.0013],[757,0.0018],[766,0.0005],[775,0.0014],[784,0.0011],[793,0.0016],[802,0.0007],[811,0.0015],[820,0.0021],
[829,0.0012],[838,0.0024],[847,0.0013],[856,0.0009],[865,0.0016],[874,0.0011],[883,0.0014],[892,0.0006],[901,0.0013],[910,0.0017],[919,0.0009],[928,0.0012],[937,0.0005],
[946,0.0015],[955,0.0011],[964,0.0004],[973,0.0013],[982,0.0009],[991,0.0015],[1000,0.0006],[1009,0.0012],[1018,0.0014],[1027,0.0007],[1036,0.0012],[1045,0.0015],
[1054,0.0003],[1063,0.0011],[1072,0.0015],[1081,0.0007],[1090,0.0013],[1099,0.0016],[1108,0.0005],[1117,0.0012],[1126,0.0015],[1135,0.0008],[1144,0.0014],[1153,0.0011],
[1162,0.0016],[1171,0.0006],[1180,0.0014],[1189,0.0018],[1198,0.0009],[1207,0.0016],[1216,0.0012],[1225,0.0017],[1234,0.0006],[1243,0.0014],[1252,0.0019],[1261,0.0011],
[1270,0.0016],[1279,0.0005],[1288,0.0014],[1297,0.0009],[1304,0.0016],[1310,0.0011]
];
const caseCookHigh = [
[3,0.0078],[20,0.0093],[28,0.0075],[40,0.0243],[5,0.0037],[24,0.0039],[35,0.0035],[63,0.0057],[72,0.0049],[80,0.0039],[83,0.0093],[88,0.0045],[100,0.0025],[130,0.0028],
[144,0.0031],[189,0.0082],[190,0.0039],[193,0.0033],[217,0.0039],[220,0.0102],[225,0.0035],[258,0.0049],[270,0.0058],[280,0.0038],[293,0.0068],[300,0.0062],[309,0.0164],
[309,0.0049],[317,0.0286],[330,0.0022],[364,0.0034],[378,0.0034],[385,0.0061],[453,0.0045],[461,0.0044],[465,0.0032],[497,0.0034],[525,0.004],[533,0.0041],[548,0.0025],
[575,0.0022],[635,0.0109],[636,0.0098],[645,0.0078],[648,0.0065],[650,0.0088],[652,0.005],[655,0.0072],[660,0.0089],[665,0.0087],[670,0.0033],[700,0.0035],[717,0.0036],
[739,0.0053],[747,0.0054],[750,0.0033],[773,0.0045],[775,0.0046],[788,0.0095],[830,0.0028],[840,0.003],[868,0.0237],[880,0.0044],[888,0.0039],[925,0.0386],[951,0.0026],
[1100,0.0027],[1108,0.0026],[1146,0.0026],[1172,0.0027],[1200,0.0076],[1200,0.0044],[1208,0.0045],[1211,0.0098],[1214,0.0094],[1238,0.0095],[1252,0.0041],[1262,0.0038],
[1276,0.0039],[1287,0.0032]
];
// Axis ticks and labels
const resTicks = [-3, -2, -1, 0, 1, 2, 3];
const resLabels = [-3, -1, 1, 3];
const lpTicks = [12, 13, 14, 15, 16, 17];
const devTicks = [-3, -2, -1, 0, 1, 2, 3];
const cookTicks = [0, 0.01, 0.02, 0.03];
const cookLabels = [0, 0.02];
const levTicks = [0, 0.2, 0.4, 0.6, 0.8, 1.0];
const caseTicks = [0, 200, 400, 600, 800, 1000, 1200];

// ---------- DRAW ----------
const FONT = '"Liberation Sans", Arial, sans-serif';
const FS = 19;
const dash = "7,4";
function panel(o) {
  const txt = {fill: "#000", fontSize: FS, textAnchor: "middle", lineAnchor: "middle"};
  const marks = [
    ...(o.extra || []),
    Plot.dot(o.data, {x: d => d[0], y: d => d[1], symbol: "diamond2", r: 4.2, stroke: "#000", strokeWidth: 1.35, fill: "none"}),
    Plot.frame({stroke: "#000", strokeWidth: 1.3}),
    Plot.axisX({ticks: o.xTicks, tickSize: 12, tickFormat: () => "", anchor: "bottom", stroke: "#000", strokeWidth: 1.3}),
    Plot.axisY({ticks: o.yTicks, tickSize: 12, tickFormat: () => "", anchor: "left", stroke: "#000", strokeWidth: 1.3}),
    Plot.text(o.xLabels, {...txt, x: d => d, text: o.xFmt, frameAnchor: "bottom", dy: 36}),
    Plot.text(o.yLabels, {...txt, y: d => d, text: o.yFmt, frameAnchor: "left", dx: o.yLabDx, rotate: -90}),
    Plot.text([o.xTitle], {...txt, frameAnchor: "bottom", dy: 84}),
    Plot.text([o.yTitle], {...txt, frameAnchor: "left", dx: o.yTitleDx, rotate: -90})
  ];
  const svg = Plot.plot({
    width: o.width, height: o.height,
    marginLeft: o.ml, marginRight: o.mr, marginTop: o.mt, marginBottom: o.mb,
    x: {domain: o.xDomain},
    y: {domain: o.yDomain},
    style: {fontFamily: FONT, fontSize: FS + "px", color: "#000", background: "transparent", overflow: "visible"},
    marks
  });
  svg.classList.add("panel");
  svg.style.position = "absolute";
  svg.style.left = o.left + "px";
  svg.style.top = o.top + "px";
  document.getElementById("page").appendChild(svg);
}

const intFmt = d => String(d);
panel({
  data: residCore.concat(residCore2, residCore3, residOuter), left: 0, top: 0, width: 605, height: 364,
  ml: 110, mr: 45, mt: 107, mb: 115,
  xDomain: [11.683, 17.393], yDomain: [-3.28, 3.74],
  xTicks: lpTicks, xLabels: lpTicks, xFmt: intFmt,
  yTicks: resTicks, yLabels: resLabels, yFmt: intFmt,
  xTitle: "Linear predictor", yTitle: "Residuals", yLabDx: -33, yTitleDx: -83
});
panel({
  data: qqPairs.concat(qqPairs2), left: 605, top: 0, width: 605, height: 364,
  ml: 103, mr: 52, mt: 107, mb: 115,
  xDomain: [-3.645, 3.613], yDomain: [-3.28, 3.74],
  xTicks: devTicks, xLabels: devTicks, xFmt: intFmt,
  yTicks: resTicks, yLabels: resLabels, yFmt: intFmt,
  xTitle: "Ordered deviance residuals", yTitle: "Quantiles of standard normal", yLabDx: -34, yTitleDx: -81,
  extra: [Plot.line(refLine, {x: d => d, y: d => d, stroke: "#000", strokeWidth: 1, strokeDasharray: dash, clip: true})]
});
panel({
  data: leverageCook, left: 0, top: 364, width: 605, height: 365,
  ml: 110, mr: 45, mt: 103, mb: 121,
  xDomain: [-0.0359, 1.042], yDomain: [-0.00117, 0.0399],
  xTicks: levTicks, xLabels: levTicks, xFmt: d => d.toFixed(1),
  yTicks: cookTicks, yLabels: cookLabels, yFmt: d => d.toFixed(2),
  xTitle: "h/(1-h)", yTitle: "Cook statistic", yLabDx: -35, yTitleDx: -83,
  extra: [
    Plot.ruleY([cookCut], {stroke: "#000", strokeWidth: 1.2, strokeDasharray: dash}),
    Plot.ruleX([hCut], {stroke: "#000", strokeWidth: 1.2, strokeDasharray: dash})
  ]
});
panel({
  data: caseCook.concat(caseCook2, caseCookHigh), left: 605, top: 364, width: 605, height: 365,
  ml: 103, mr: 52, mt: 103, mb: 121,
  xDomain: [-51, 1365], yDomain: [-0.00117, 0.0399],
  xTicks: caseTicks, xLabels: caseTicks, xFmt: intFmt,
  yTicks: cookTicks, yLabels: cookLabels, yFmt: d => d.toFixed(2),
  xTitle: "Case", yTitle: "Cook statistic", yLabDx: -34, yTitleDx: -81,
  extra: [Plot.ruleY([cookCut], {stroke: "#000", strokeWidth: 1.2, strokeDasharray: dash})]
});
</script>
</body></html>
